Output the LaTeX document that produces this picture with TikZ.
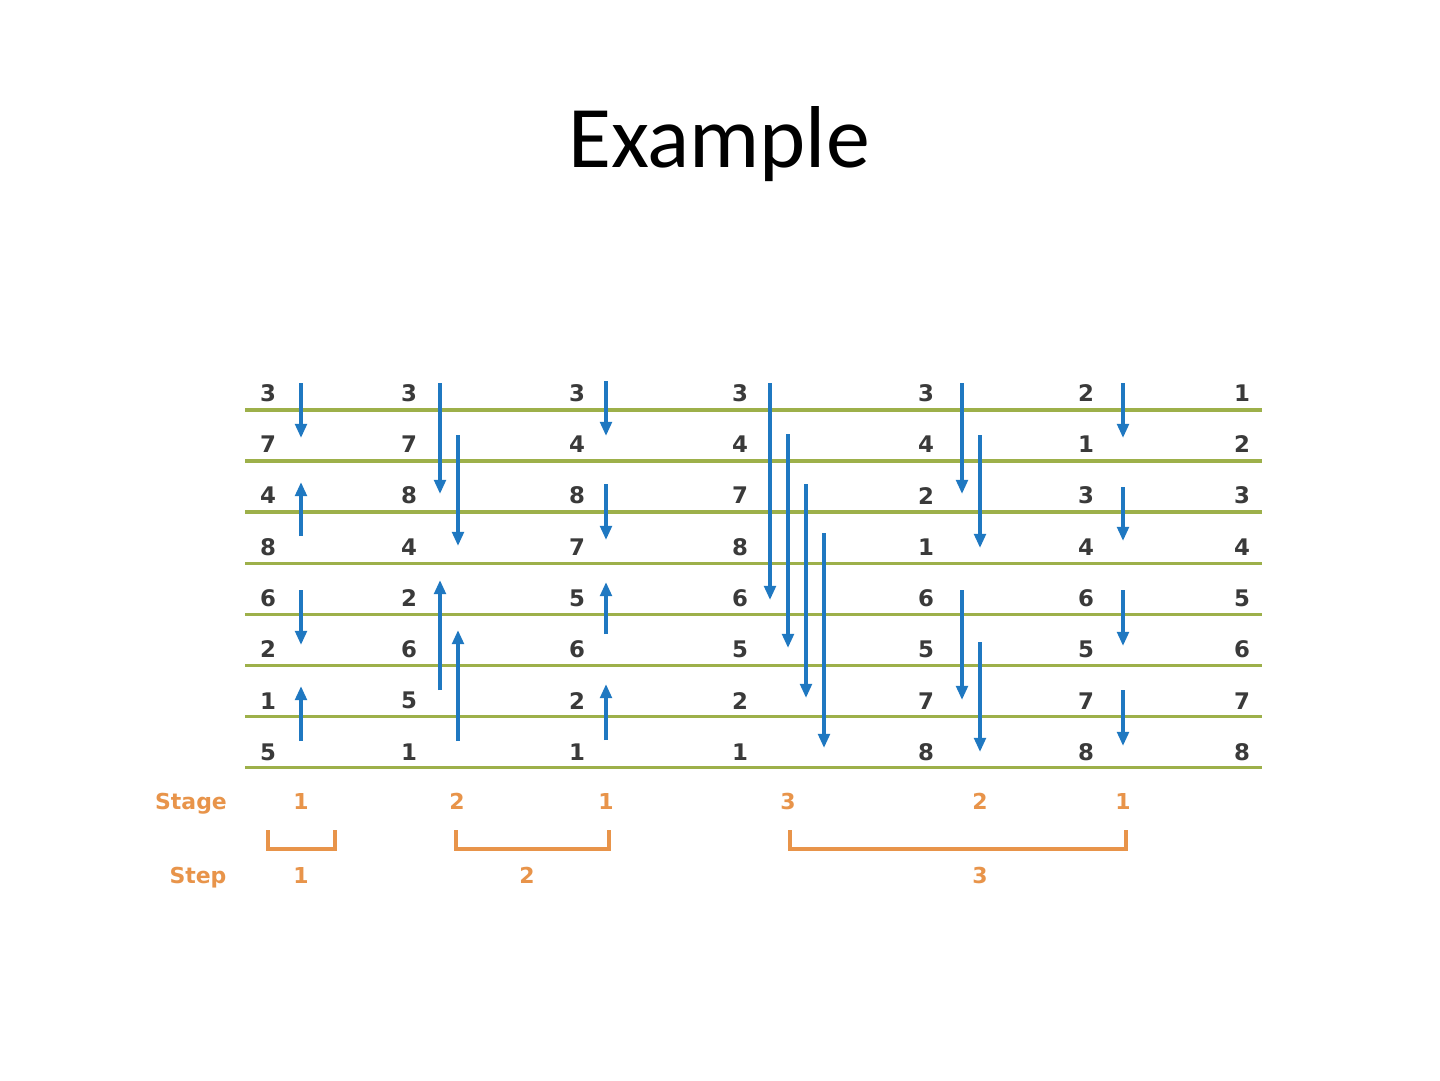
\documentclass[tikz,border=0pt]{standalone}
\usepackage{fontspec}
\setmainfont{Carlito}
\newfontfamily\digitfont{DejaVu Sans}
\usepackage{xcolor}
\usetikzlibrary{arrows.meta, positioning, calc}

\definecolor{sortblue}{HTML}{1F78C1}
\definecolor{lanegreen}{HTML}{9DB04A}
\definecolor{numgray}{HTML}{3A3A3A}
\definecolor{stageorange}{HTML}{E8944A}

\begin{document}
\begin{tikzpicture}[
    x=0.02cm,
    y=-0.02cm,
    num/.style={font=\digitfont\bfseries\fontsize{13}{15}\selectfont, text=numgray, inner sep=0pt},
    lane/.style={draw=lanegreen, line width=2pt},
    swap/.style={draw=sortblue, line width=2pt, -{Triangle[length=8pt, width=6.5pt]}},
    stagelbl/.style={font=\digitfont\bfseries\fontsize{12.5}{15}\selectfont, text=stageorange, inner sep=0pt, anchor=base},
    bracket/.style={draw=stageorange, line width=1.8pt}
]

    % --- canvas ---
    \fill[white] (0,0) rectangle (1440,1080);

    % --- title ---
    \node[font=\fontsize{50}{58}\selectfont, anchor=base] (title) at (719,167) {Example};

    % --- lanes ---
    \foreach \r in {1,...,8} {
        \draw[lane] (245, 410+51.1*\r-51.1) -- (1262, 410+51.1*\r-51.1);
    }

    % --- numbers per column ---
    \foreach \x/\vals [count=\c] in {268/{3,7,4,8,6,2,1,5}, 409/{3,7,8,4,2,6,5,1},
                                     577/{3,4,8,7,5,6,2,1}, 740/{3,4,7,8,6,5,2,1},
                                     926/{3,4,2,1,6,5,7,8}, 1086/{2,1,3,4,6,5,7,8},
                                     1242/{1,2,3,4,5,6,7,8}} {
        \foreach \v [count=\r] in \vals {
            \node[num] (n\c-\r) at (\x, 341.7+51.3*\r) {\v};
        }
    }

    % --- compare-and-swap arrows ---
    \foreach \x/\ya/\yb in {301/383/438, 301/536/482, 301/590/645, 301/741/686,
                            440/383/494, 458/435/546, 440/690/580, 458/741/630,
                            606/381/436, 606/484/540, 606/634/582, 606/740/684,
                            770/383/600, 788/434/648, 806/484/698, 824/533/748,
                            962/383/494, 980/435/548, 962/590/700, 980/642/752,
                            1123/383/438, 1123/487/541, 1123/590/646, 1123/690/746} {
        \draw[swap] (\x,\ya) -- (\x,\yb);
    }

    % --- stages ---
    \node[stagelbl] (stage) at (191,809) {Stage};
    \foreach \x/\s [count=\i] in {301/1, 457/2, 606/1, 788/3, 980/2, 1123/1} {
        \node[stagelbl] (s\i) at (\x,809) {\s};
    }

    % --- steps ---
    \draw[bracket] (268,830) -- (268,849) -- (335,849) -- (335,830);
    \draw[bracket] (456,830) -- (456,849) -- (609,849) -- (609,830);
    \draw[bracket] (790,830) -- (790,849) -- (1126,849) -- (1126,830);

    \node[stagelbl] (step) at (198,883) {Step};
    \foreach \x/\s [count=\i] in {301/1, 527/2, 980/3} {
        \node[stagelbl] (t\i) at (\x,883) {\s};
    }
\end{tikzpicture}
\end{document}
